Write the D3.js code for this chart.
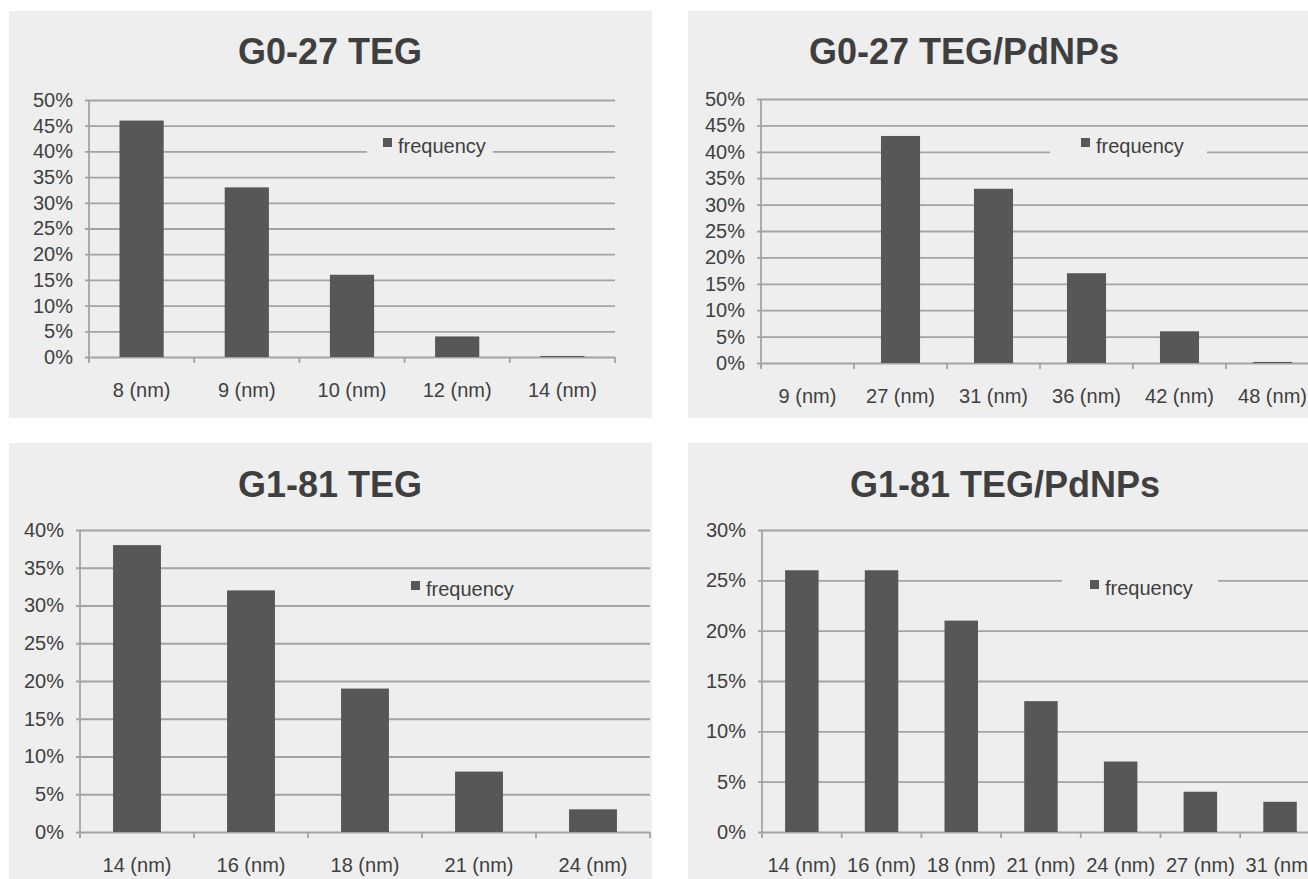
<!DOCTYPE html>
<html>
<head>
<meta charset="utf-8">
<script src="https://cdn.jsdelivr.net/npm/d3@7"></script>
<style>
  html, body { margin: 0; padding: 0; background: #ffffff; }
  svg { display: block; }
  text { font-family: "Liberation Sans", Arial, Helvetica, sans-serif; }
</style>
</head>
<body>
<svg id="chart" width="1308" height="879"></svg>
<script>
// ---- data ----
const titles = ["G0-27 TEG", "G0-27 TEG/PdNPs", "G1-81 TEG", "G1-81 TEG/PdNPs"];

const categories1 = ["8 (nm)", "9 (nm)", "10 (nm)", "12 (nm)", "14 (nm)"];
const values1 = [0.46, 0.33, 0.16, 0.04, 0.002];
const yTicks1 = [0, 0.05, 0.10, 0.15, 0.20, 0.25, 0.30, 0.35, 0.40, 0.45, 0.50];

const categories2 = ["9 (nm)", "27 (nm)", "31 (nm)", "36 (nm)", "42 (nm)", "48 (nm)"];
const values2 = [0, 0.43, 0.33, 0.17, 0.06, 0.002];
const yTicks2 = [0, 0.05, 0.10, 0.15, 0.20, 0.25, 0.30, 0.35, 0.40, 0.45, 0.50];

const categories3 = ["14 (nm)", "16 (nm)", "18 (nm)", "21 (nm)", "24 (nm)"];
const values3 = [0.38, 0.32, 0.19, 0.08, 0.03];
const yTicks3 = [0, 0.05, 0.10, 0.15, 0.20, 0.25, 0.30, 0.35, 0.40];

const categories4 = ["14 (nm)", "16 (nm)", "18 (nm)", "21 (nm)", "24 (nm)", "27 (nm)", "31 (nm)"];
const values4 = [0.26, 0.26, 0.21, 0.13, 0.07, 0.04, 0.03];
const yTicks4 = [0, 0.05, 0.10, 0.15, 0.20, 0.25, 0.30];

const seriesName = "frequency";

// ---- styling / layout ----
const BG = "#eeeeee", BAR = "#575757", GRID = "#a3a3a3", TXT = "#3f3f3f";

const panels = [
  { title: titles[0], cats: categories1, vals: values1, ticks: yTicks1,
    box: [9, 11, 643, 407], titleX: 330, titleY: 64,
    plot: { x0: 89, x1: 615, yTop: 100, yBot: 357 },
    legend: { x0: 367, x1: 493, sq: 383, sqTop: 138 } },
  { title: titles[1], cats: categories2, vals: values2, ticks: yTicks2,
    box: [688, 11, 640, 407], titleX: 964, titleY: 64,
    plot: { x0: 761, x1: 761 + 6 * 93, yTop: 99, yBot: 363 },
    legend: { x0: 1050, x1: 1207, sq: 1081, sqTop: 138 } },
  { title: titles[2], cats: categories3, vals: values3, ticks: yTicks3,
    box: [9, 443, 643, 436], titleX: 330, titleY: 497,
    plot: { x0: 80, x1: 650, yTop: 530, yBot: 832 },
    legend: { x0: 392, x1: 531, sq: 411, sqTop: 581 } },
  { title: titles[3], cats: categories4, vals: values4, ticks: yTicks4,
    box: [688, 443, 640, 436], titleX: 1005, titleY: 497,
    plot: { x0: 762, x1: 762 + 7 * 79.7, yTop: 530, yBot: 832 },
    legend: { x0: 1062, x1: 1218, sq: 1090, sqTop: 580 } }
];

const svg = d3.select("#chart");
const pct = d3.format(".0%");

panels.forEach(p => {
  const g = svg.append("g");
  const [bx, by, bw, bh] = p.box;
  g.append("rect").attr("x", bx).attr("y", by).attr("width", bw).attr("height", bh).attr("fill", BG);

  g.append("text")
    .attr("x", p.titleX).attr("y", p.titleY)
    .attr("text-anchor", "middle")
    .attr("font-size", 36).attr("font-weight", "bold")
    .attr("fill", TXT)
    .text(p.title);

  const x = d3.scaleBand().domain(p.cats).range([p.plot.x0, p.plot.x1])
    .paddingInner(0.58).paddingOuter(0.29);
  const y = d3.scaleLinear().domain([0, d3.max(p.ticks)]).range([p.plot.yBot, p.plot.yTop]);
  const w = p.plot.x1 - p.plot.x0;

  // y axis with gridlines
  const yg = g.append("g").attr("transform", `translate(${p.plot.x0},0)`)
    .call(d3.axisLeft(y).tickValues(p.ticks).tickFormat(pct).tickSize(-w).tickSizeOuter(0).tickPadding(16));
  yg.select(".domain").remove();
  yg.selectAll(".tick line").attr("x1", -4).attr("stroke", GRID).attr("stroke-width", 1.8);
  yg.selectAll(".tick text").attr("font-size", 20).attr("fill", TXT)
    .attr("font-family", "'Liberation Sans', Arial, sans-serif");

  // vertical axis line
  g.append("line").attr("x1", p.plot.x0).attr("x2", p.plot.x0)
    .attr("y1", y(d3.max(p.ticks))).attr("y2", y(0) + 5)
    .attr("stroke", GRID).attr("stroke-width", 1.8);

  // x boundary ticks
  const bounds = d3.range(p.cats.length + 1);
  g.append("g").selectAll("line").data(bounds).join("line")
    .attr("x1", i => p.plot.x0 + i * x.step()).attr("x2", i => p.plot.x0 + i * x.step())
    .attr("y1", y(0)).attr("y2", y(0) + 6)
    .attr("stroke", GRID).attr("stroke-width", 1.8);

  // bars
  g.append("g").selectAll("rect").data(p.cats.map((c, i) => ({ c, v: p.vals[i] }))).join("rect")
    .attr("x", d => x(d.c)).attr("width", x.bandwidth())
    .attr("y", d => y(d.v)).attr("height", d => y(0) - y(d.v))
    .attr("fill", BAR);

  // x labels
  const xg = g.append("g").attr("transform", `translate(0,${y(0)})`)
    .call(d3.axisBottom(x).tickSize(0).tickPadding(26));
  xg.select(".domain").remove();
  xg.selectAll(".tick text").attr("font-size", 20).attr("fill", TXT)
    .attr("font-family", "'Liberation Sans', Arial, sans-serif");

  // legend
  const L = p.legend;
  g.append("rect").attr("x", L.x0).attr("y", L.sqTop - 8)
    .attr("width", L.x1 - L.x0).attr("height", 32).attr("fill", BG);
  g.append("rect").attr("x", L.sq).attr("y", L.sqTop).attr("width", 9).attr("height", 9).attr("fill", BAR);
  g.append("text").attr("x", L.sq + 15).attr("y", L.sqTop + 14.5)
    .attr("font-size", 20).attr("fill", TXT).text(seriesName);
});
</script>
</body>
</html>
